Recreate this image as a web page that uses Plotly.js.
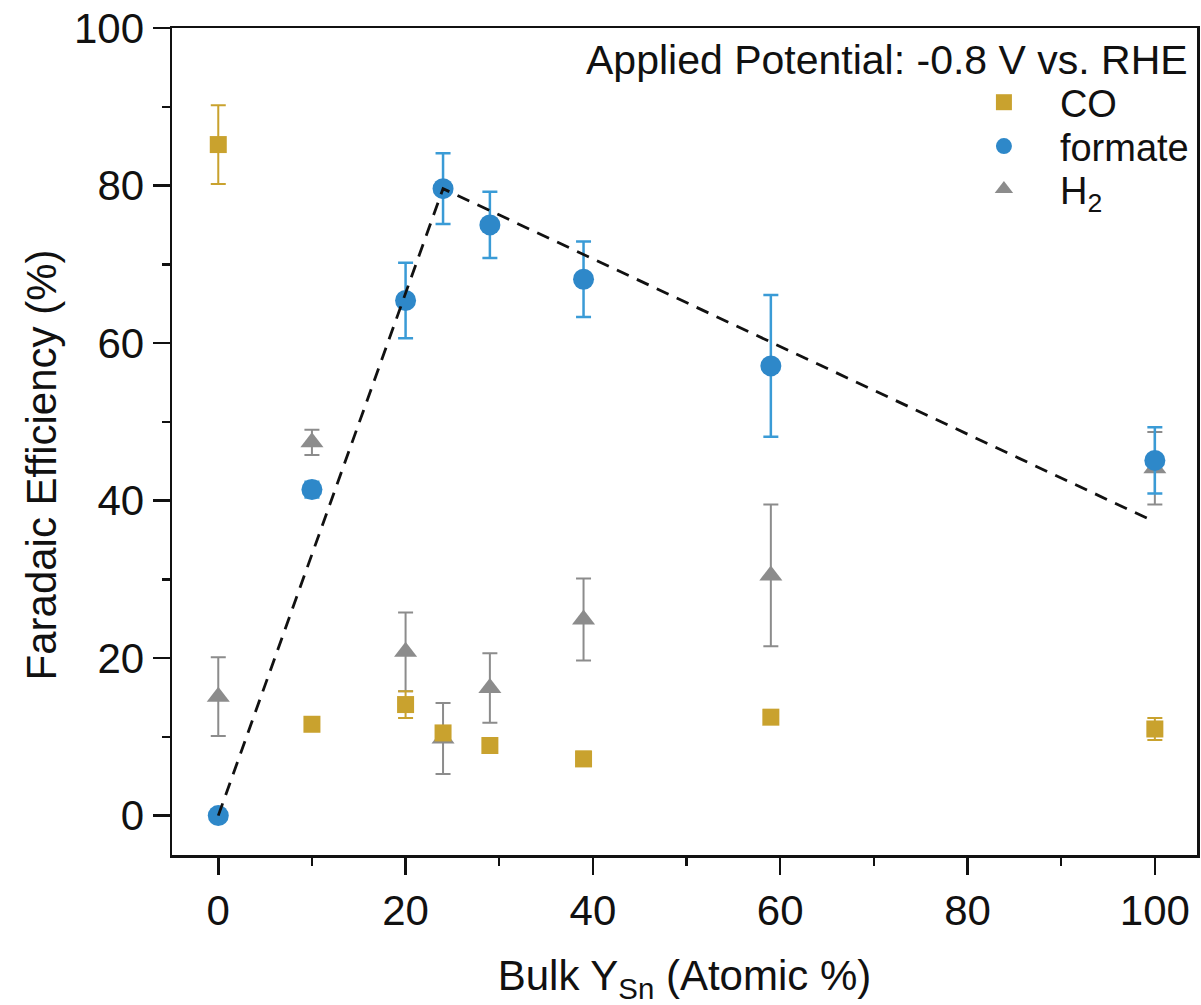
<!DOCTYPE html>
<html>
<head>
<meta charset="utf-8">
<script src="https://cdn.plot.ly/plotly-3.0.1.min.js"></script>
<style>html,body{margin:0;padding:0;background:#fff;}#chart{width:1201px;height:1005px;}</style>
</head>
<body>
<div id="chart"></div>
<script>
// Data
var bulkSn      = [0, 10, 20, 24, 29, 39, 59, 100];
var coFE        = [85.2, 11.6, 14.1, 10.5, 8.9, 7.2, 12.5, 11.0];
var coErr       = [5.0, 0.6, 1.7, 0.8, 0.5, 0.9, 0.6, 1.4];
var formateFE   = [0, 41.4, 65.4, 79.6, 75.0, 68.1, 57.1, 45.1];
var formateErr  = [0.3, 1.0, 4.8, 4.5, 4.2, 4.8, 9.0, 4.2];
var h2FE        = [15.1, 47.4, 20.8, 9.8, 16.2, 24.9, 30.5, 44.1];
var h2Err       = [5.0, 1.6, 5.0, 4.5, 4.4, 5.2, 9.0, 4.6];
var trendX      = [0, 24, 100];
var trendY      = [0, 79.6, 37.3];
var tickValues  = [0, 20, 40, 60, 80, 100];
var minorValues = [10, 30, 50, 70, 90];

var FONT = '"Liberation Sans", Arial, Helvetica, sans-serif';
var GOLD = '#C9A22E', BLUE = '#2E88C9', BLUE_ERR = '#3A9BD6', GRAY = '#8C8C8C';

var traces = [
  {
    x: bulkSn, y: h2FE, name: 'H<sub>2</sub>', type: 'scatter', mode: 'markers',
    marker: {symbol: 'triangle-up', size: 20, color: GRAY},
    error_y: {type: 'data', array: h2Err, visible: true, color: GRAY, thickness: 2, width: 7.5},
    legend: 'legend3'
  },
  {
    x: bulkSn, y: formateFE, name: 'formate', type: 'scatter', mode: 'markers',
    marker: {symbol: 'circle', size: 21, color: BLUE},
    error_y: {type: 'data', array: formateErr, visible: true, color: BLUE_ERR, thickness: 2.5, width: 7.5},
    legend: 'legend2'
  },
  {
    x: bulkSn, y: coFE, name: 'CO', type: 'scatter', mode: 'markers',
    marker: {symbol: 'square', size: 17, color: GOLD},
    error_y: {type: 'data', array: coErr, visible: true, color: GOLD, thickness: 2, width: 7.5},
    legend: 'legend'
  },
  {
    x: trendX, y: trendY, type: 'scatter', mode: 'lines', showlegend: false,
    line: {color: '#111111', width: 2.8, dash: '13px,9px'}
  }
];

var axisCommon = {
  showgrid: false, zeroline: false,
  showline: true, linecolor: '#111', linewidth: 2.5, mirror: true,
  ticks: 'outside', ticklen: 17, tickwidth: 2.5, tickcolor: '#111',
  tickfont: {family: FONT, size: 42, color: '#111'},
  tickvals: tickValues,
  minor: {tickvals: minorValues, ticklen: 8, tickwidth: 2.5, tickcolor: '#111', ticks: 'outside'}
};

function legendAt(yPaper) {
  return {
    x: 0.757, y: yPaper, xanchor: 'left', yanchor: 'top',
    bgcolor: 'rgba(0,0,0,0)', borderwidth: 0,
    font: {family: FONT, size: 38, color: '#111'},
    itemwidth: 102
  };
}

var layout = {
  width: 1201, height: 1005,
  margin: {l: 172, r: 4, t: 28, b: 150},
  paper_bgcolor: '#fff', plot_bgcolor: '#fff',
  showlegend: true,
  xaxis: Object.assign({}, axisCommon, {
    range: [-4.94, 104.5],
    title: {text: 'Bulk Y<sub>Sn</sub> (Atomic %)', font: {family: FONT, size: 42, color: '#111'}, standoff: 28}
  }),
  yaxis: Object.assign({}, axisCommon, {
    range: [-5, 100]
  }),
  legend: legendAt(0.948),
  legend2: legendAt(0.895),
  legend3: legendAt(0.843),
  annotations: [
    {
      xref: 'paper', yref: 'paper', x: 0.993, y: 0.961, xanchor: 'right', yanchor: 'middle',
      text: 'Applied Potential: -0.8 V vs. RHE', showarrow: false,
      font: {family: FONT, size: 41, color: '#111'}
    },
    {
      xref: 'paper', yref: 'paper', x: -0.127, y: 0.472, xanchor: 'center', yanchor: 'middle',
      textangle: -90, text: 'Faradaic Efficiency (%)', showarrow: false,
      font: {family: FONT, size: 42, color: '#111'}
    }
  ]
};

Plotly.newPlot('chart', traces, layout, {displayModeBar: false, staticPlot: true});
</script>
</body>
</html>
